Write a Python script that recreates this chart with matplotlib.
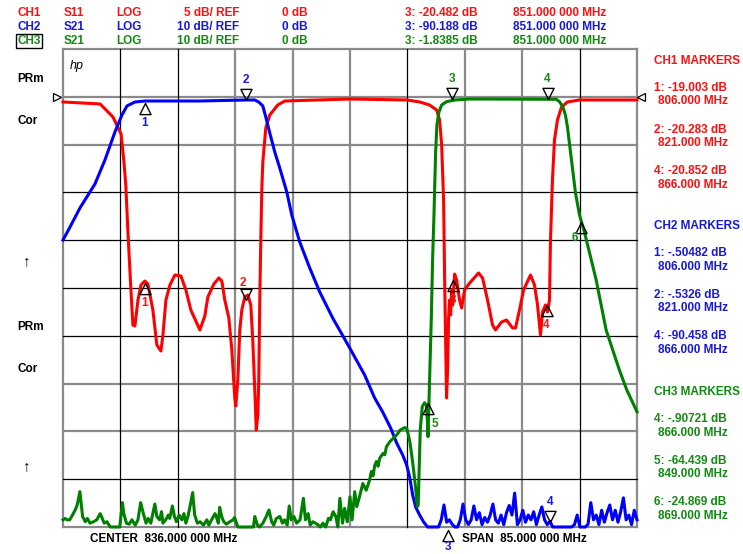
import numpy as np
import matplotlib
matplotlib.use("Agg")
import matplotlib.pyplot as plt
from matplotlib.path import Path

plt.rcParams['font.family'] = ['Liberation Sans', 'DejaVu Sans']

# ---------------- data ----------------
CENTER_MHZ = 836.0
SPAN_MHZ = 85.0
channels = ['CH1', 'CH2', 'CH3']
params = ['S11', 'S21', 'S21']
formats = ['LOG', 'LOG', 'LOG']
scales_db = [5, 10, 10]
refs_db = [0, 0, 0]
active_readout = ['3: -20.482 dB', '3: -90.188 dB', '3: -1.8385 dB']
active_freq = ['851.000 000 MHz', '851.000 000 MHz', '851.000 000 MHz']

# CH1  S11
ch1_freq = [793.5, 799.0, 800.9, 802.1, 802.5, 802.8, 803.1, 803.56, 803.85, 804.15, 804.6, 805.04,
            805.63, 806.07, 806.81, 807.4, 808.0, 808.3, 808.74, 809.33, 810.07, 810.96, 811.7, 812.43,
            813.77, 814.5, 814.95, 815.84, 816.58, 817.02, 817.46, 818.06, 818.5, 818.94, 819.09, 819.39,
            819.68, 819.98, 820.42, 820.87, 821.31, 821.6, 821.9, 822.12, 822.35, 822.49, 822.64, 822.79,
            822.94, 823.09, 823.53, 824.12, 825.3, 826.34, 835.96, 844.39, 846.31, 847.79, 848.83, 849.27,
            849.57, 849.86, 850.01, 850.16, 850.3, 850.45, 850.6, 850.75, 850.9, 851.05, 851.2, 851.49,
            851.79, 852.23, 852.53, 852.97, 853.71, 855.04, 855.63, 856.37, 857.11, 857.55, 858.44, 859.18,
            860.07, 860.51, 861.1, 861.7, 862.73, 863.32, 863.77, 864.21, 864.51, 864.95, 865.25, 865.54,
            865.69, 865.98, 866.28, 866.72, 867.32, 868.2, 869.98, 878.5]
ch1_db = [-0.54, -0.75, -2.11, -3.89, -6.61, -9.23, -13.93, -20.21, -23.87, -23.97, -21.26, -19.69,
          -19.27, -19.58, -22.3, -25.96, -26.59, -24.92, -21.26, -19.69, -18.64, -18.74, -20.21, -22.3,
          -24.39, -22.93, -20.94, -19.58, -18.95, -19.27, -21.26, -23.14, -26.49, -31.51, -32.34, -29.62,
          -24.39, -22.3, -20.94, -20.73, -21.78, -25.44, -30.67, -34.85, -33.28, -29.62, -21.26, -14.98,
          -9.75, -6.82, -3.26, -1.9, -0.86, -0.44, -0.23, -0.33, -0.54, -0.86, -1.38, -2.43,
          -5.04, -10.79, -18.85, -25.44, -31.51, -28.58, -23.14, -21.26, -22.82, -20.21, -21.78, -18.54,
          -19.16, -21.26, -22.09, -20.21, -19.48, -18.43, -18.95, -21.26, -23.87, -24.39, -23.56, -23.35,
          -24.18, -24.18, -22.3, -20.21, -18.64, -19.69, -21.78, -24.92, -22.51, -21.78, -22.51, -21.26,
          -14.98, -8.70, -4.52, -2.43, -1.07, -0.54, -0.33, -0.33]

# CH2  S21 (passband + skirt), then the noise floor (uniformly sampled)
ch2_freq = [793.5, 794.54, 796.01, 798.23, 799.71, 801.19, 802.23, 802.97, 804.15, 805.63, 813.77, 820.57,
            821.9, 822.49, 823.09, 823.53, 824.12, 824.86, 825.6, 826.64, 827.38, 828.56, 830.04, 831.52,
            833.44, 835.96, 838.17, 839.65, 840.84, 842.02, 842.91, 843.8, 844.39, 844.83, 845.28, 845.72,
            846.31, 846.9]
ch2_db = [-29.96, -27.24, -23.26, -18.24, -13.22, -7.36, -3.81, -1.92, -1.09, -0.88, -0.88, -0.67,
          -0.67, -1.09, -1.92, -4.23, -7.57, -11.55, -14.9, -19.92, -24.73, -30.38, -35.82, -40.84,
          -46.28, -52.55, -58.2, -63.01, -65.94, -69.29, -72.43, -74.94, -77.03, -79.54, -83.31, -85.82,
          -87.49, -88.95]
ch2_noise_start = 847.5
ch2_noise_db = [-90, -90, -90, -90, -90, -88.5, -85.4, -89.0, -88.5, -89.4, -90, -90, -88.5, -85.2,
                -88.5, -89.5, -88.5, -85.6, -88.5, -87.0, -89.5, -88.0, -89.0, -87.5, -85.2, -88.5,
                -89.2, -87.5, -89.5, -87.0, -85.5, -87.5, -82.9, -89.5, -88.5, -86.5, -89.0, -87.5,
                -88.5, -86.8, -89.5, -87.5, -85.8, -88.5, -89.5, -88.8, -90, -90, -90, -90, -90, -90,
                -90, -90, -89.5, -87.5, -90, -90, -90, -89.4, -84.9, -88.5, -87.5, -89.5, -86.5,
                -89.0, -87.0, -85.4, -88.5, -86.5, -89.0, -86.8, -83.9, -88.5, -87.5, -89.5, -86.5,
                -88.5]

# CH3  S21
ch3_freq = [793.5, 793.8, 794.1, 794.5, 794.9, 795.3, 795.6, 796.0, 796.4, 796.8,
            797.1, 797.5, 798.0, 798.5, 799.0, 799.2, 799.6, 800.0, 800.5, 800.9,
            801.4, 801.9, 802.3, 802.5, 802.9, 803.3, 803.7, 804.2, 804.6, 805.0,
            805.4, 805.8, 806.1, 806.5, 806.8, 807.1, 807.4, 807.8, 808.1, 808.3,
            808.7, 809.1, 809.3, 809.7, 810.0, 810.3, 810.7, 811.1, 811.4, 811.7,
            812.0, 812.3, 812.7, 813.0, 813.4, 813.8, 814.3, 814.8, 815.1, 815.5,
            816.0, 816.2, 816.5, 816.7, 817.0, 817.3, 817.7, 818.2, 818.7, 818.9,
            819.2, 819.4, 820.2, 820.9, 821.7, 821.9, 822.3, 822.6, 823.1, 823.6,
            824.0, 824.4, 824.7, 825.1, 825.6, 826.0, 826.3, 826.7, 827.0, 827.3,
            827.7, 828.1, 828.6, 829.1, 829.4, 829.8, 830.1, 830.5, 830.9, 831.3,
            831.6, 832.0, 832.4, 832.8, 833.1, 833.5, 833.9, 834.2, 834.5, 834.9,
            835.2, 835.6, 836.0, 836.3, 836.7, 837.0, 837.4, 837.9, 838.4, 838.9,
            839.16, 839.41, 839.65, 839.9, 840.15, 840.4, 840.9, 841.15, 841.4, 841.9,
            842.4, 842.9, 843.45, 844.1, 844.4, 844.7, 844.9, 845.3, 845.7, 845.97,
            846.1, 846.2, 846.4, 846.7, 847.05, 847.3, 847.45, 847.55, 847.65, 847.8,
            848.04, 848.23, 848.42, 848.68, 848.87, 849.17, 849.57, 850.3, 851.49, 853.71,
            866.53, 867.02, 867.51, 867.9, 868.2, 868.79, 869.39, 869.98, 870.72, 872.45,
            873.93, 875.9, 876.98, 878.5]
ch3_db = [-88.5, -88.2, -88.5, -88.5, -87.5, -86.45, -85.4, -82.6, -87.8, -88.9,
          -88.2, -89.2, -88.9, -88.5, -87.2, -87.8, -89.2, -88.9, -90, -90,
          -90, -90, -84.9, -87.2, -89.2, -89.4, -88.5, -89.6, -88.5, -84.9,
          -87.2, -89.2, -88.2, -89.2, -87.2, -85.2, -87.8, -88.5, -86.8, -89.2,
          -88.5, -87.5, -88.2, -85.6, -87.8, -88.9, -87.5, -88.5, -87.2, -89.2,
          -87.8, -85.75, -82.8, -87.5, -89.2, -88.9, -89.6, -88.5, -89.6, -88.5,
          -87.2, -87.8, -89.2, -85.9, -87.8, -88.9, -89.4, -88.9, -88.5, -88.0,
          -89.2, -90, -90, -90, -90, -87.8, -89.6, -90, -89.2, -87.8,
          -86.45, -88.9, -89.6, -88.2, -87.8, -89.2, -88.5, -89.6, -85.6, -88.5,
          -87.8, -89.2, -88.5, -84.0, -88.5, -87.2, -89.6, -88.9, -89.2, -89.6,
          -90, -89.2, -90, -88.2, -88.5, -86.8, -87.8, -90, -84.0, -89.2,
          -86.1, -88.9, -83.7, -88.5, -82.6, -85.75, -83.7, -80.9, -82.3, -80.2,
          -78.4, -79.3, -77.2, -76.3, -77.3, -75.6, -74.6, -74.9, -73.2, -72.15,
          -71.45, -70.76, -69.7, -69.2, -69.36, -71.1, -72.5, -76.7, -81.6, -85.75,
          -85.4, -80.2, -69.7, -64.8, -64.0, -64.5, -67.6, -71.1, -66.2, -59.25,
          -46.3, -34.1, -25.4, -11.5, -5.9, -3.18, -1.72, -1.02, -0.67, -0.46,
          -0.52, -1.02, -2.07, -3.81, -6.32, -13.2, -20.1, -24.7, -28.3, -38.3,
          -48.8, -57.2, -61.3, -65.9]

# markers as shown on screen: id, frequency, level, direction
ch1_mk_id = ['1', '2', '3', '4']
ch1_mk_freq = [805.63, 820.57, 851.19, 865.1]
ch1_mk_db = [-19.48, -21.26, -19.16, -21.78]
ch1_mk_dir = ['up', 'down', 'up', 'up']
ch2_mk_id = ['1', '2', '3', '4']
ch2_mk_freq = [805.63, 820.57, 850.5, 865.6]
ch2_mk_db = [-1.3, -0.67, -90.6, -88.9]
ch2_mk_dir = ['up', 'down', 'up', 'down']
ch3_mk_id = ['3', '4', '5', '6']
ch3_mk_freq = [851.04, 865.25, 847.54, 870.23]
ch3_mk_db = [-0.46, -0.46, -64.06, -26.2]
ch3_mk_dir = ['down', 'down', 'up', 'up']

# marker tables on the right
ch1_table = [('1: -19.003 dB', '806.000 MHz'), ('2: -20.283 dB', '821.000 MHz'), ('4: -20.852 dB', '866.000 MHz')]
ch2_table = [('1: -.50482 dB', '806.000 MHz'), ('2: -.5326 dB', '821.000 MHz'), ('4: -90.458 dB', '866.000 MHz')]
ch3_table = [('4: -.90721 dB', '866.000 MHz'), ('5: -64.439 dB', '849.000 MHz'), ('6: -24.869 dB', '869.000 MHz')]

# ---------------- style ----------------
RED, BLUE, GREEN = '#ff0000', '#0000ff', '#008000'
TRED, TBLUE, TGREEN = '#ff1010', '#1818d8', '#128a12'
GRAY = '#8a8a8a'
FS = 8.5

W, H = 743, 554
fig = plt.figure(figsize=(W / 100, H / 100), dpi=100, facecolor='white')


def fx(x):
    return x / W


def fy(y):
    return 1 - y / H


L, R, T, B = 63, 637, 49, 527
ax = fig.add_axes([fx(L), fy(B), (R - L) / W, (B - T) / H])
f0, f1 = CENTER_MHZ - SPAN_MHZ / 2, CENTER_MHZ + SPAN_MHZ / 2
ax.set_xlim(f0, f1)
ax.set_ylim(refs_db[0] - 9 * scales_db[0], refs_db[0] + scales_db[0])
ax2 = ax.twinx()
ax2.set_ylim(refs_db[1] - 9 * scales_db[1], refs_db[1] + scales_db[1])
for a in (ax, ax2):
    a.set_xticks([])
    a.set_yticks([])
    for s in a.spines.values():
        s.set_visible(False)
ax.set_facecolor('white')
ax2.patch.set_visible(False)

# graticule (10 x 10)
gray_cols = {0, 3, 4, 5, 7, 8, 10}
gray_rows = {0, 1, 2, 7, 8, 10}
for i in range(11):
    xv = f0 + i * SPAN_MHZ / 10
    if i in gray_cols:
        ax.axvline(xv, color=GRAY, lw=1.6, zorder=0.5, clip_on=False)
    else:
        ax.axvline(xv, color='black', lw=0.9, zorder=0.6, clip_on=False)
for k in range(11):
    yv = refs_db[0] + scales_db[0] - k * scales_db[0]
    if k in gray_rows:
        ax.axhline(yv, color=GRAY, lw=1.6, zorder=0.5, clip_on=False)
    else:
        ax.axhline(yv, color='black', lw=0.9, zorder=0.6, clip_on=False)

# traces
ax.plot(ch1_freq, ch1_db, color=RED, lw=2.2, solid_joinstyle='round', zorder=2, clip_on=False)
ch2_all_f = list(ch2_freq) + list(np.linspace(ch2_noise_start, f1, len(ch2_noise_db)))
ch2_all_d = list(ch2_db) + list(ch2_noise_db)
ax2.plot(ch2_all_f, ch2_all_d, color=BLUE, lw=2.2, solid_joinstyle='round', zorder=2, clip_on=False)
ax2.plot(ch3_freq, ch3_db, color=GREEN, lw=2.2, solid_joinstyle='round', zorder=3, clip_on=False)

# marker symbols
UP = Path([(0, 0), (-0.5, -1), (0.5, -1), (0, 0)],
          [Path.MOVETO, Path.LINETO, Path.LINETO, Path.CLOSEPOLY])
DOWN = Path([(0, 0), (-0.5, 1), (0.5, 1), (0, 0)],
            [Path.MOVETO, Path.LINETO, Path.LINETO, Path.CLOSEPOLY])
special_offsets = {('ch3', '5'): (7, -21), ('ch3', '6'): (-6, -16), ('ch1', '2'): (-3, 17),
                   ('ch2', '3'): (0, -17)}


def draw_markers(axis, key, ids, freqs, dbs, dirs, color):
    for mid, f, d, dr in zip(ids, freqs, dbs, dirs):
        axis.plot([f], [d], ls='none', marker=UP if dr == 'up' else DOWN, ms=16,
                  mfc='none', mec='black', mew=1.0, zorder=6, clip_on=False)
        off = special_offsets.get((key, mid), (0, -20) if dr == 'up' else (0, 20))
        axis.annotate(mid, (f, d), xytext=off, textcoords='offset pixels', color=color,
                      fontsize=FS, fontweight='bold', ha='center', va='center',
                      annotation_clip=False, zorder=7)


draw_markers(ax, 'ch1', ch1_mk_id, ch1_mk_freq, ch1_mk_db, ch1_mk_dir, TRED)
draw_markers(ax2, 'ch2', ch2_mk_id, ch2_mk_freq, ch2_mk_db, ch2_mk_dir, TBLUE)
draw_markers(ax2, 'ch3', ch3_mk_id, ch3_mk_freq, ch3_mk_db, ch3_mk_dir, TGREEN)

# reference-level pointers
ytr = ax.get_yaxis_transform()
ax.plot([-0.0096], [refs_db[0]], transform=ytr, marker='>', ms=6, mfc='none', mec='black',
        mew=0.9, ls='none', clip_on=False)
ax.plot([1.0077], [refs_db[0]], transform=ytr, marker='<', ms=6, mfc='none', mec='black',
        mew=0.9, ls='none', clip_on=False)

# header
tcols = [TRED, TBLUE, TGREEN]
row_y = [13, 27, 41]
for i in range(3):
    y = fy(row_y[i])
    c = tcols[i]
    kw = dict(color=c, fontsize=FS, fontweight='bold', va='center')
    if i == 2:
        fig.text(fx(17), y, channels[i], ha='left',
                 bbox=dict(boxstyle='square,pad=0.12', fc='none', ec='black', lw=1.0), **kw)
    else:
        fig.text(fx(17), y, channels[i], ha='left', **kw)
    fig.text(fx(64), y, params[i], ha='left', **kw)
    fig.text(fx(116), y, formats[i], ha='left', **kw)
    fig.text(fx(239), y, f'{scales_db[i]} dB/ REF', ha='right', **kw)
    fig.text(fx(282), y, f'{refs_db[i]} dB', ha='left', **kw)
    fig.text(fx(405), y, active_readout[i], ha='left', **kw)
    fig.text(fx(513), y, active_freq[i], ha='left', **kw)

# left annotations
lkw = dict(color='black', fontsize=FS, fontweight='bold', va='center', ha='left')
fig.text(fx(17), fy(79), 'PRm', **lkw)
fig.text(fx(17), fy(121), 'Cor', **lkw)
fig.text(fx(17), fy(327), 'PRm', **lkw)
fig.text(fx(17), fy(369), 'Cor', **lkw)
fig.text(fx(27), fy(261), '\u2191', color='black', fontsize=11, fontweight='bold',
         ha='center', va='center')
fig.text(fx(27), fy(466), '\u2191', color='black', fontsize=11, fontweight='bold',
         ha='center', va='center')
fig.text(fx(70), fy(66), 'hp', color='black', fontsize=9, style='italic', ha='left', va='center')

# bottom annotations
fig.text(fx(90), fy(539), f'CENTER  {CENTER_MHZ:.3f} 000 MHz', **lkw)
fig.text(fx(462), fy(539), f'SPAN  {SPAN_MHZ:.3f} 000 MHz', **lkw)

# right marker tables
def table(title, rows, y0, color):
    kw = dict(color=color, fontsize=FS, fontweight='bold', va='center', ha='left')
    fig.text(fx(654), fy(y0), title, **kw)
    for j, (a, b) in enumerate(rows):
        ya = y0 + 27.5 + j * 41.6
        fig.text(fx(654), fy(ya), a, **kw)
        fig.text(fx(658), fy(ya + 13.3), b, **kw)


table('CH1 MARKERS', ch1_table, 60.7, TRED)
table('CH2 MARKERS', ch2_table, 225.7, TBLUE)
table('CH3 MARKERS', ch3_table, 391.7, TGREEN)

fig.savefig('out.png', dpi=100, facecolor='white')
